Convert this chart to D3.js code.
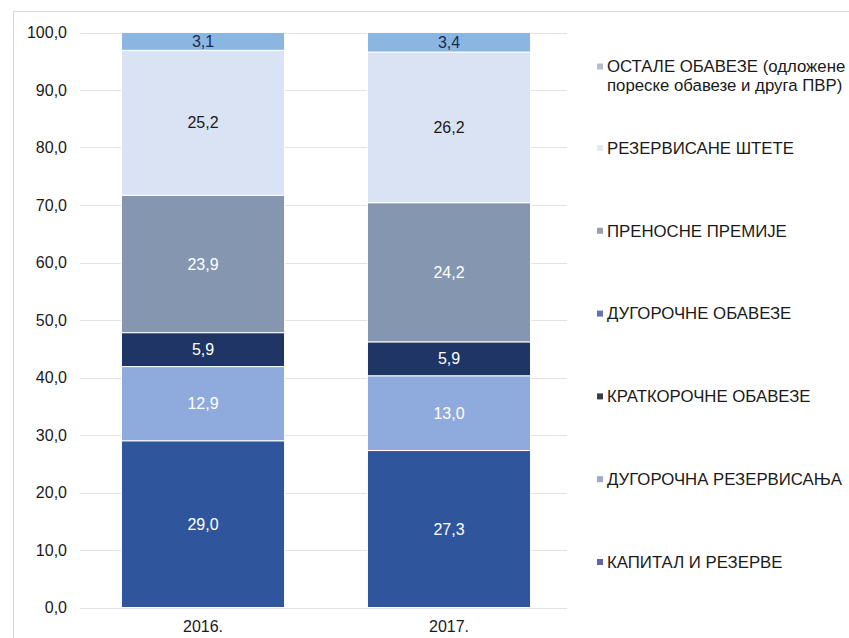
<!DOCTYPE html>
<html>
<head>
<meta charset="utf-8">
<script src="https://cdn.jsdelivr.net/npm/d3@7"></script>
<style>
  html, body { margin: 0; padding: 0; background: #ffffff; }
  svg { display: block; font-family: "Liberation Sans", Arial, sans-serif; }
</style>
</head>
<body>
<svg id="chart" width="849" height="638"></svg>
<script>
// ---- data ----
const years = ["2016.", "2017."];
const seriesNames = [
  "КАПИТАЛ И РЕЗЕРВЕ",
  "ДУГОРОЧНА РЕЗЕРВИСАЊА",
  "КРАТКОРОЧНЕ ОБАВЕЗЕ",
  "ДУГОРОЧНЕ ОБАВЕЗЕ",
  "ПРЕНОСНЕ ПРЕМИЈЕ",
  "РЕЗЕРВИСАНЕ ШТЕТЕ",
  "ОСТАЛЕ ОБАВЕЗЕ (одложене пореске обавезе и друга ПВР)"
];
const values2016 = [29.0, 12.9, 5.9, 0.0, 23.9, 25.2, 3.1];
const values2017 = [27.3, 13.0, 5.9, 0.0, 24.2, 26.2, 3.4];
const yTicks = [0, 10, 20, 30, 40, 50, 60, 70, 80, 90, 100];
const legendLines = [
  ["ОСТАЛЕ ОБАВЕЗЕ (одложене", "пореске обавезе и друга ПВР)"],
  ["РЕЗЕРВИСАНЕ ШТЕТЕ"],
  ["ПРЕНОСНЕ ПРЕМИЈЕ"],
  ["ДУГОРОЧНЕ ОБАВЕЗЕ"],
  ["КРАТКОРОЧНЕ ОБАВЕЗЕ"],
  ["ДУГОРОЧНА РЕЗЕРВИСАЊА"],
  ["КАПИТАЛ И РЕЗЕРВЕ"]
];

// ---- styles ----
const colors = ["#2f569c", "#8faadc", "#1f3566", "#6a70b6", "#8496b0", "#dae3f3", "#8cb6e2"];
const labelColors = ["#ffffff", "#ffffff", "#ffffff", "#ffffff", "#ffffff", "#1a1a1a", "#1a2a4a"];
// legend marker colours, in legend order (top to bottom)
const legendMarkerColors = ["#b8bcc6", "#e6e9f0", "#9a9fab", "#6a70b6", "#3a3e4c", "#a4a9cc", "#5b64ad"];

const svg = d3.select("#chart");

// outer frame
svg.append("rect")
  .attr("x", 13.5).attr("y", 11.5)
  .attr("width", 860).attr("height", 660)
  .attr("fill", "none").attr("stroke", "#d9d9d9").attr("stroke-width", 1);

const x = d3.scaleBand().domain(years).range([80, 572]).paddingInner(0.337).paddingOuter(0.1685);
const y = d3.scaleLinear().domain([0, 100]).range([607.5, 32.5]);

const fmt = v => v.toFixed(1).replace(".", ",");

// gridlines
svg.append("g").selectAll("line").data(yTicks).join("line")
  .attr("x1", 80).attr("x2", 567)
  .attr("y1", d => Math.round(y(d)) + 0.5).attr("y2", d => Math.round(y(d)) + 0.5)
  .attr("stroke", "#e3e3e3").attr("stroke-width", 1);

// y axis labels
const yAxis = d3.axisLeft(y).tickValues(yTicks).tickFormat(fmt).tickSize(0).tickPadding(0);
const gy = svg.append("g").attr("transform", "translate(67,0)").call(yAxis);
gy.select(".domain").remove();
gy.selectAll("text").attr("font-size", "16px").attr("fill", "#1a1a1a")
  .attr("font-family", "'Liberation Sans', Arial, sans-serif");

// x axis labels
const xAxis = d3.axisBottom(x).tickSize(0).tickPadding(0);
const gx = svg.append("g").attr("transform", "translate(0,621)").call(xAxis);
gx.select(".domain").remove();
gx.selectAll("text").attr("font-size", "16px").attr("fill", "#1a1a1a")
  .attr("font-family", "'Liberation Sans', Arial, sans-serif");

// stacked data
const rows = years.map((yr, i) => {
  const vals = i === 0 ? values2016 : values2017;
  const o = { year: yr };
  seriesNames.forEach((s, k) => { o[s] = vals[k]; });
  return o;
});
const stacked = d3.stack().keys(seriesNames)(rows);

const layers = svg.append("g").selectAll("g").data(stacked).join("g")
  .attr("fill", (d, i) => colors[i]);

layers.selectAll("rect").data(d => d.filter(p => p[1] - p[0] > 0)).join("rect")
  .attr("x", p => x(p.data.year))
  .attr("width", x.bandwidth())
  .attr("y", p => y(p[1]))
  .attr("height", p => y(p[0]) - y(p[1]))
  .attr("stroke", "#ffffff").attr("stroke-width", 1);

// value labels
stacked.forEach((layer, i) => {
  svg.append("g").selectAll("text").data(layer.filter(p => p[1] - p[0] > 0)).join("text")
    .attr("x", p => x(p.data.year) + x.bandwidth() / 2)
    .attr("y", p => (y(p[0]) + y(p[1])) / 2)
    .attr("dy", "0.35em")
    .attr("text-anchor", "middle")
    .attr("font-size", "16px")
    .attr("fill", labelColors[i])
    .text(p => fmt(p[1] - p[0]));
});

// legend
const legendY = d3.scaleLinear().domain([1, 6]).range([148, 562]);
const lg = svg.append("g");
legendLines.forEach((lines, i) => {
  const cy = i === 0 ? 66.5 : legendY(i);
  lg.append("rect")
    .attr("x", 597).attr("y", cy - 3)
    .attr("width", 6).attr("height", 6)
    .attr("fill", legendMarkerColors[i]);
  lines.forEach((t, j) => {
    lg.append("text")
      .attr("x", 607).attr("y", cy + j * 19)
      .attr("dy", "0.35em")
      .attr("font-size", "16.8px")
      .attr("fill", "#1a1a1a")
      .text(t);
  });
});
</script>
</body>
</html>
